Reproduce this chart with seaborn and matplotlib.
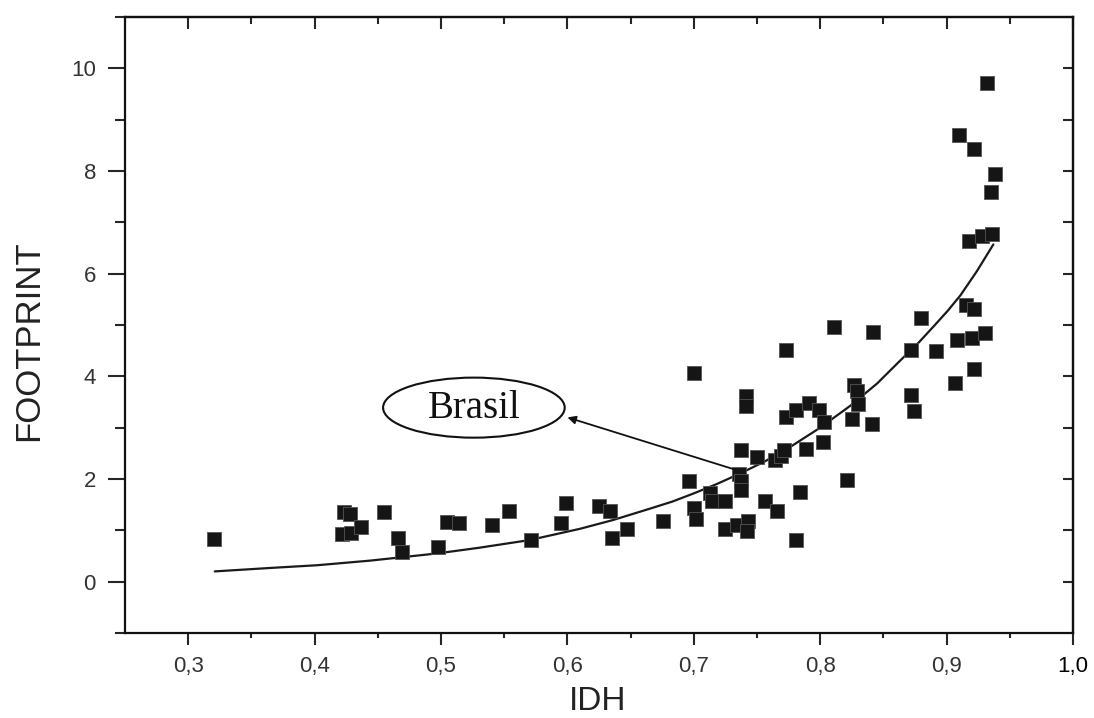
import numpy as np
import pandas as pd
import matplotlib
matplotlib.use('Agg')
import matplotlib.pyplot as plt
from matplotlib.patches import Ellipse
from matplotlib.ticker import FixedLocator, FixedFormatter
import seaborn as sns

# points
idh = [0.320, 0.423, 0.428, 0.422, 0.429, 0.437, 0.455, 0.466, 0.469, 0.498,
       0.505, 0.514, 0.540, 0.554, 0.571, 0.599, 0.595, 0.625, 0.634, 0.635,
       0.647, 0.676, 0.696, 0.700, 0.700, 0.702, 0.713, 0.714, 0.725, 0.725,
       0.734, 0.743, 0.742, 0.736, 0.737, 0.737, 0.737, 0.741, 0.741, 0.750,
       0.756, 0.766, 0.764, 0.769, 0.771, 0.773, 0.773, 0.781, 0.781, 0.784,
       0.789, 0.791, 0.799, 0.803, 0.802, 0.811, 0.821, 0.825, 0.827, 0.829,
       0.830, 0.841, 0.842, 0.872, 0.872, 0.874, 0.880, 0.892, 0.907, 0.908,
       0.920, 0.930, 0.922, 0.915, 0.922, 0.918, 0.928, 0.936, 0.935, 0.938,
       0.922, 0.910, 0.932]
footprint = [0.83, 1.35, 1.31, 0.92, 0.94, 1.07, 1.36, 0.86, 0.58, 0.67,
             1.17, 1.14, 1.11, 1.37, 0.81, 1.53, 1.14, 1.47, 1.37, 0.85,
             1.03, 1.19, 1.96, 4.07, 1.44, 1.22, 1.73, 1.57, 1.57, 1.03,
             1.11, 1.19, 0.98, 2.09, 1.96, 1.78, 2.56, 3.61, 3.42, 2.43,
             1.58, 1.38, 2.37, 2.44, 2.56, 4.52, 3.21, 3.35, 0.81, 1.75,
             2.59, 3.48, 3.35, 3.12, 2.73, 4.96, 1.99, 3.17, 3.84, 3.71,
             3.47, 3.08, 4.86, 4.51, 3.63, 3.33, 5.13, 4.49, 3.87, 4.70,
             4.75, 4.85, 4.15, 5.38, 5.32, 6.63, 6.74, 6.78, 7.60, 7.95,
             8.43, 8.71, 9.72]

# fitted curve
curve_x = [0.321, 0.367, 0.402, 0.444, 0.497, 0.530, 0.570, 0.610, 0.636, 0.665,
           0.683, 0.700, 0.718, 0.736, 0.756, 0.776, 0.800, 0.824, 0.845, 0.863,
           0.878, 0.890, 0.901, 0.911, 0.924, 0.937]
curve_y = [0.20, 0.27, 0.32, 0.41, 0.55, 0.66, 0.81, 1.03, 1.20, 1.42,
           1.56, 1.72, 1.90, 2.10, 2.34, 2.62, 3.00, 3.43, 3.86, 4.30,
           4.66, 4.98, 5.28, 5.58, 6.05, 6.57]

x_ticks = [0.3, 0.4, 0.5, 0.6, 0.7, 0.8, 0.9, 1.0]
x_tick_labels = ['0,3', '0,4', '0,5', '0,6', '0,7', '0,8', '0,9', '1,0']
y_ticks = [0, 2, 4, 6, 8, 10]

df = pd.DataFrame({'IDH': idh, 'FOOTPRINT': footprint})
curve = pd.DataFrame({'IDH': curve_x, 'FOOTPRINT': curve_y})

sns.set_style('ticks')
plt.rcParams['font.family'] = ['Liberation Sans', 'DejaVu Sans']

fig = plt.figure(figsize=(10.94, 7.18), dpi=100)
ax = fig.add_axes([0.1143, 0.1184, 0.8665, 0.8579])

sns.lineplot(data=curve, x='IDH', y='FOOTPRINT', color='#1a1a1a', linewidth=1.6, ax=ax)
sns.scatterplot(data=df, x='IDH', y='FOOTPRINT', marker='s', s=110, color='#151515',
                edgecolor='#555555', linewidth=0.6, ax=ax, zorder=3)

ax.set_xlim(0.25, 1.0)
ax.set_ylim(-1, 11)

for sp in ax.spines.values():
    sp.set_linewidth(1.6)
    sp.set_color('#111111')

minor_x = [0.35, 0.45, 0.55, 0.65, 0.75, 0.85, 0.95]
ax.xaxis.set_major_locator(FixedLocator(x_ticks))
ax.xaxis.set_major_formatter(FixedFormatter(x_tick_labels))
ax.xaxis.set_minor_locator(FixedLocator(minor_x))
ax.yaxis.set_major_locator(FixedLocator(y_ticks))
ax.yaxis.set_minor_locator(FixedLocator([-1, 1, 3, 5, 7, 9, 11]))

ax.tick_params(axis='x', which='major', direction='out', length=8.5, width=1.5,
               pad=8, labelsize=16, labelcolor='#333333')
ax.tick_params(axis='x', which='minor', direction='out', length=3.5, width=1.5)
ax.tick_params(axis='y', which='major', direction='out', length=12, width=1.5,
               pad=9, labelsize=16, labelcolor='#333333')
ax.tick_params(axis='y', which='minor', direction='out', length=7, width=1.5)
ax.get_xticklabels()[-1].set_color('black')

top = ax.secondary_xaxis('top')
top.xaxis.set_major_locator(FixedLocator(x_ticks))
top.xaxis.set_minor_locator(FixedLocator(minor_x))
top.tick_params(which='major', direction='in', length=8.5, width=1.5, labeltop=False)
top.tick_params(which='minor', direction='in', length=5, width=1.5)
top.spines['top'].set_linewidth(1.6)

right = ax.secondary_yaxis('right')
right.yaxis.set_major_locator(FixedLocator(list(range(0, 11))))
right.yaxis.set_minor_locator(FixedLocator([]))
right.tick_params(which='major', direction='in', length=7, width=1.5, labelright=False)
right.spines['right'].set_linewidth(1.6)

ax.set_xlabel('IDH', fontsize=24, color='#222222')
ax.set_ylabel('FOOTPRINT', fontsize=25, color='#222222')
ax.xaxis.set_label_coords(0.499, -0.086)
ax.yaxis.set_label_coords(-0.084, 0.474)

# Brasil callout
ax.add_patch(Ellipse((0.526, 3.39), 0.1437, 1.17, facecolor='white',
                     edgecolor='#111111', linewidth=1.5, zorder=4))
ax.text(0.526, 3.37, 'Brasil', ha='center', va='center', fontsize=28,
        family=['Liberation Serif', 'DejaVu Serif'], color='#111111', zorder=5)
ax.annotate('', xy=(0.600, 3.20), xytext=(0.733, 2.18),
            arrowprops=dict(arrowstyle='-|>', color='#111111', lw=1.3,
                            mutation_scale=12, shrinkA=0, shrinkB=0), zorder=5)

fig.savefig('out.png', dpi=100, facecolor='white')
